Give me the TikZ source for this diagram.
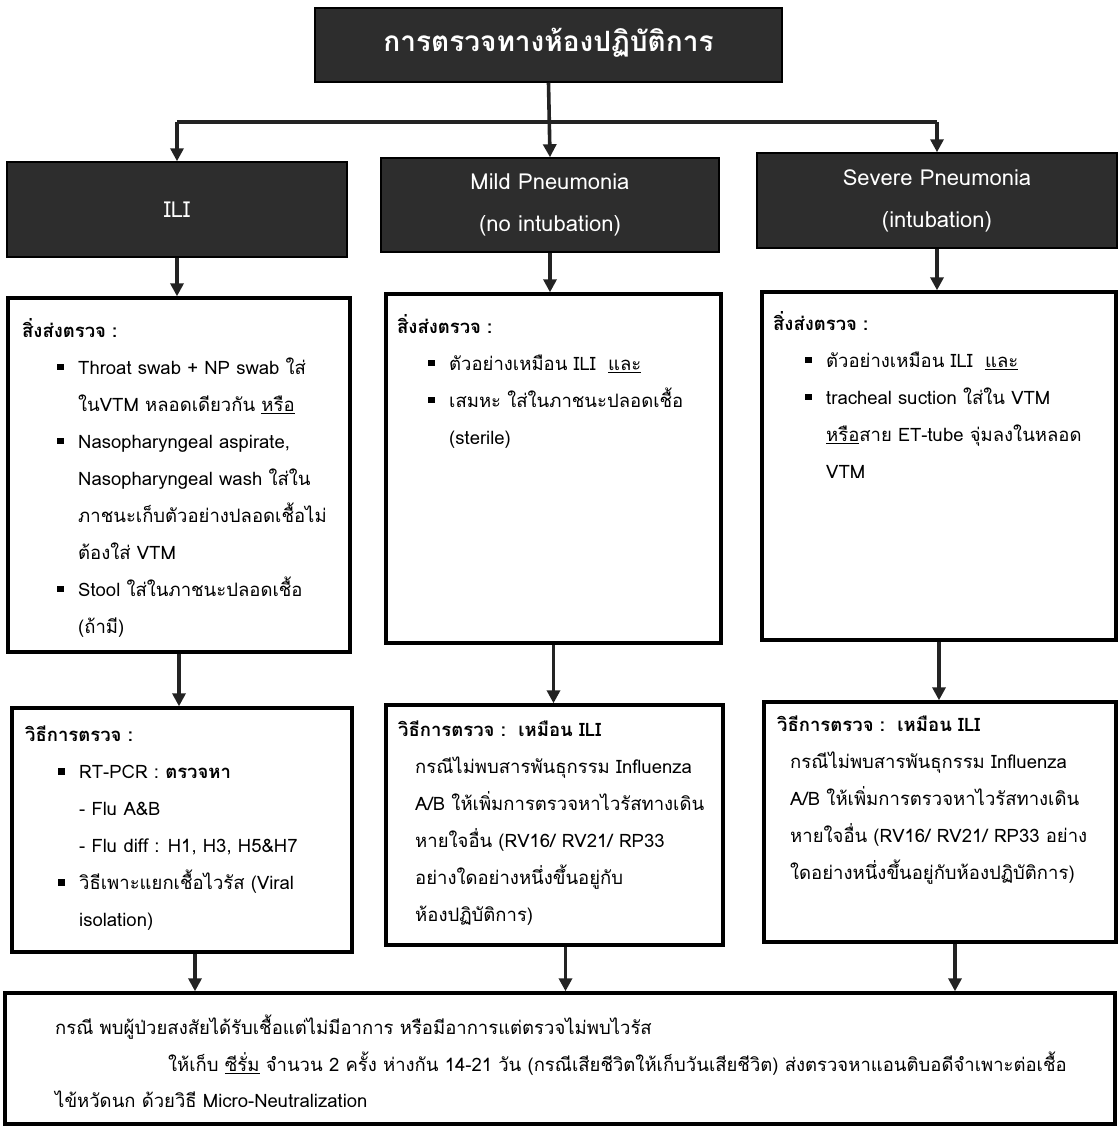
\documentclass[tikz,border=0pt]{standalone}
\usepackage{fontspec}
\setmainfont{Loma}[Script=Thai]
\usetikzlibrary{arrows.meta}
\newcommand\blt{\makebox[21pt][l]{\rule[4pt]{6.5pt}{6.5pt}}}
\newcommand\ind{\hspace*{21pt}}
\begin{document}
\begin{tikzpicture}[x=1pt,y=-1pt,
  darkbox/.style={draw=black,line width=1.5pt,fill={rgb,255:red,45;green,45;blue,45},text=white,inner sep=0pt},
  whitebox/.style={draw=black,line width=3.4pt,fill=white,inner sep=0pt},
  conn/.style={line width=3.6pt,draw={rgb,255:red,35;green,35;blue,35}},
  arr/.style={conn,-{Triangle[length=13pt,width=13pt]}},
  body/.style={anchor=north west,align=left,inner sep=0pt,font=\fontsize{18.5pt}{37pt}\selectfont},
  hdr/.style={align=center,font=\fontsize{22pt}{42pt}\selectfont,text=white}]
\useasboundingbox (0,0) rectangle (1119,1127);
% title
\node[darkbox,minimum width=467pt,minimum height=74pt] (title) at (548.5,45) {};
\node[text=white,font=\bfseries\fontsize{28pt}{36pt}\selectfont] (titletxt) at (548.5,43) {การตรวจทางห้องปฏิบัติการ};
% headers
\node[darkbox,minimum width=340pt,minimum height=95pt] (h1) at (177,209.5) {};
\node[darkbox,minimum width=338pt,minimum height=94pt] (h2) at (550,205) {};
\node[darkbox,minimum width=360pt,minimum height=95pt] (h3) at (937,200.5) {};
\node[hdr] (h1t) at (h1) {ILI};
\node[hdr] (h2t) at (h2) {Mild Pneumonia\\(no intubation)};
\node[hdr] (h3t) at (h3) {Severe Pneumonia\\(intubation)};
% row 2
\node[whitebox,minimum width=342pt,minimum height=354pt] (b1) at (179,475) {};
\node[whitebox,minimum width=335pt,minimum height=349pt] (b2) at (553.5,468.5) {};
\node[whitebox,minimum width=354pt,minimum height=348pt] (b3) at (939,466) {};
% row 3
\node[whitebox,minimum width=340pt,minimum height=244pt] (c1) at (182,830) {};
\node[whitebox,minimum width=337pt,minimum height=240pt] (c2) at (554.5,825) {};
\node[whitebox,minimum width=352pt,minimum height=240pt] (c3) at (940,822) {};
% bottom
\node[whitebox,minimum width=1110pt,minimum height=131pt] (d) at (560,1058.5) {};
% connectors
\coordinate (hl) at (548,122);
\draw[conn] (h1.north |- hl) -- (h3.north |- hl);
\draw[arr] (title.south) -- (h2.north);
\draw[arr] (h1.north |- hl) -- (h1.north);
\draw[arr] (h3.north |- hl) -- (h3.north);
\draw[arr] (h1.south) -- (h1.south |- b1.north);
\draw[arr] (h2.south) -- (h2.south |- b2.north);
\draw[arr] (h3.south) -- (h3.south |- b3.north);
\draw[arr] (b1.south) -- (b1.south |- c1.north);
\draw[arr] (b2.south) -- (b2.south |- c2.north);
\draw[arr] (b3.south) -- (b3.south |- c3.north);
\draw[arr] ([xshift=13pt]c1.south) -- ([xshift=13pt]c1.south |- d.north);
\draw[arr] ([xshift=11pt]c2.south) -- ([xshift=11pt]c2.south |- d.north);
\draw[arr] ([xshift=15pt]c3.south) -- ([xshift=15pt]c3.south |- d.north);
% texts row 2
\node[body] (t1) at (22,318) {\textbf{สิ่งส่งตรวจ :}\\
\hspace*{35pt}\blt Throat swab + NP swab ใส่\\
\hspace*{35pt}\ind ในVTM หลอดเดียวกัน \underline{หรือ}\\
\hspace*{35pt}\blt Nasopharyngeal aspirate,\\
\hspace*{35pt}\ind Nasopharyngeal wash ใส่ใน\\
\hspace*{35pt}\ind ภาชนะเก็บตัวอย่างปลอดเชื้อไม่\\
\hspace*{35pt}\ind ต้องใส่ VTM\\
\hspace*{35pt}\blt Stool ใส่ในภาชนะปลอดเชื้อ\\
\hspace*{35pt}\ind (ถ้ามี)};
\node[body] (t2) at (397,314) {\textbf{สิ่งส่งตรวจ :}\\
\hspace*{31pt}\blt ตัวอย่างเหมือน ILI\ \ \underline{และ}\\
\hspace*{31pt}\blt เสมหะ ใส่ในภาชนะปลอดเชื้อ\\
\hspace*{31pt}\ind (sterile)};
\node[body] (t3) at (773,311) {\textbf{สิ่งส่งตรวจ :}\\
\hspace*{32pt}\blt ตัวอย่างเหมือน ILI\ \ \underline{และ}\\
\hspace*{32pt}\blt tracheal suction ใส่ใน VTM\\
\hspace*{32pt}\ind \underline{หรือ}สาย ET-tube จุ่มลงในหลอด\\
\hspace*{32pt}\ind VTM};
% texts row 3
\node[body] (u1) at (25,726) {\textbf{วิธีการตรวจ :}\\
\hspace*{33pt}\blt RT-PCR : \textbf{ตรวจหา}\\
\hspace*{33pt}\ind - Flu A\&B\\
\hspace*{33pt}\ind - Flu diff : H1, H3, H5\&H7\\
\hspace*{33pt}\blt วิธีเพาะแยกเชื้อไวรัส (Viral\\
\hspace*{33pt}\ind isolation)};
\node[body] (u2) at (398,721) {\textbf{วิธีการตรวจ :\ \ เหมือน ILI}\\
\hspace*{17pt}กรณีไม่พบสารพันธุกรรม Influenza\\
\hspace*{17pt}A/B ให้เพิ่มการตรวจหาไวรัสทางเดิน\\
\hspace*{17pt}หายใจอื่น (RV16/ RV21/ RP33\\
\hspace*{17pt}อย่างใดอย่างหนึ่งขึ้นอยู่กับ\\
\hspace*{17pt}ห้องปฏิบัติการ)};
\node[body] (u3) at (777,716) {\textbf{วิธีการตรวจ :\ \ เหมือน ILI}\\
\hspace*{13pt}กรณีไม่พบสารพันธุกรรม Influenza\\
\hspace*{13pt}A/B ให้เพิ่มการตรวจหาไวรัสทางเดิน\\
\hspace*{13pt}หายใจอื่น (RV16/ RV21/ RP33 อย่าง\\
\hspace*{13pt}ใดอย่างหนึ่งขึ้นอยู่กับห้องปฏิบัติการ)};
% bottom text
\node[body,font=\fontsize{18.5pt}{36.5pt}\selectfont] (v) at (55,1015) {กรณี พบผู้ป่วยสงสัยได้รับเชื้อแต่ไม่มีอาการ หรือมีอาการแต่ตรวจไม่พบไวรัส\\
\hspace*{113pt}ให้เก็บ \underline{ซีรั่ม} จำนวน 2 ครั้ง ห่างกัน 14-21 วัน (กรณีเสียชีวิตให้เก็บวันเสียชีวิต) ส่งตรวจหาแอนติบอดีจำเพาะต่อเชื้อ\\
ไข้หวัดนก ด้วยวิธี Micro-Neutralization};
\end{tikzpicture}
\end{document}
